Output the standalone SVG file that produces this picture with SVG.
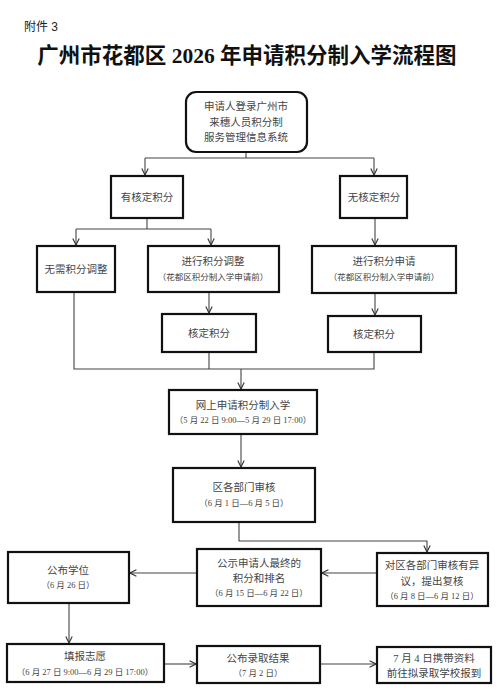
<svg xmlns="http://www.w3.org/2000/svg" width="500" height="695" viewBox="0 0 500 695">
<defs>
<marker id="arr" viewBox="0 0 10 10" refX="9" refY="5" markerWidth="8" markerHeight="8" orient="auto" markerUnits="userSpaceOnUse">
<path d="M1,1 L9,5 L1,9" fill="none" stroke="#333" stroke-width="1.4"/>
</marker>
<style>
.box{fill:#fff;stroke:#111;stroke-width:2.2}
.t{font-family:"Liberation Serif","Noto Sans CJK SC",serif;font-size:10.5px;fill:#444;text-anchor:middle;dominant-baseline:central}
.s{font-family:"Liberation Serif","Noto Sans CJK SC",serif;font-size:8.5px;fill:#444;text-anchor:middle;dominant-baseline:central}
.c{fill:none;stroke:#444;stroke-width:1.1}
</style>
</defs>
<rect width="500" height="695" fill="#fff"/>
<text x="24" y="31" font-family="'Liberation Sans','Noto Sans CJK SC',sans-serif" font-size="12" fill="#222">附件 3</text>
<text x="247" y="63" text-anchor="middle" font-family="'Liberation Serif','Noto Sans CJK SC',serif" font-size="21.5" font-weight="bold" fill="#111">广州市花都区 2026 年申请积分制入学流程图</text>

<g id="connectors">
<path class="c" d="M246,152 V158 M145,158 H374"/>
<path class="c" d="M145,158 V175" marker-end="url(#arr)"/>
<path class="c" d="M374,158 V175" marker-end="url(#arr)"/>
<path class="c" d="M147,218 V229 M76,229 H211"/>
<path class="c" d="M76,229 V245" marker-end="url(#arr)"/>
<path class="c" d="M211,229 V245" marker-end="url(#arr)"/>
<path class="c" d="M375,218 V245" marker-end="url(#arr)"/>
<path class="c" d="M209,292 V313" marker-end="url(#arr)"/>
<path class="c" d="M375,293 V315" marker-end="url(#arr)"/>
<path class="c" d="M74,292 V369 H374 V352 M209,352 V369"/>
<path class="c" d="M241,369 V389" marker-end="url(#arr)"/>
<path class="c" d="M241,434 V467" marker-end="url(#arr)"/>
<path class="c" d="M239,522 V541 H427 V552" marker-end="url(#arr)"/>
<path class="c" d="M377,573 H322" marker-end="url(#arr)"/>
<path class="c" d="M197,573 H130" marker-end="url(#arr)"/>
<path class="c" d="M69,603 V643" marker-end="url(#arr)"/>
<path class="c" d="M164,664 H196" marker-end="url(#arr)"/>
<path class="c" d="M320,664 H376" marker-end="url(#arr)"/>
</g>

<g id="n-login">
<rect class="box" x="186" y="92" width="121" height="60" rx="10"/>
<text class="t" x="246" y="106">申请人登录广州市</text>
<text class="t" x="246" y="122">来穗人员积分制</text>
<text class="t" x="246" y="137">服务管理信息系统</text>
</g>
<g id="n-has">
<rect class="box" x="111" y="176" width="72" height="42"/>
<text class="t" x="147" y="197">有核定积分</text>
</g>
<g id="n-none">
<rect class="box" x="340" y="176" width="67" height="42"/>
<text class="t" x="374" y="197">无核定积分</text>
</g>
<g id="n-noadj">
<rect class="box" x="37" y="246" width="78" height="46"/>
<text class="t" x="76" y="269">无需积分调整</text>
</g>
<g id="n-adj">
<rect class="box" x="148" y="246" width="131" height="46"/>
<text class="t" x="213" y="261">进行积分调整</text>
<text class="s" x="213" y="277">（花都区积分制入学申请前）</text>
</g>
<g id="n-apply">
<rect class="box" x="312" y="246" width="144" height="47"/>
<text class="t" x="384" y="261">进行积分申请</text>
<text class="s" x="384" y="277">（花都区积分制入学申请前）</text>
</g>
<g id="n-verify1">
<rect class="box" x="162" y="314" width="94" height="38"/>
<text class="t" x="209" y="333">核定积分</text>
</g>
<g id="n-verify2">
<rect class="box" x="328" y="316" width="93" height="36"/>
<text class="t" x="374" y="334">核定积分</text>
</g>
<g id="n-online">
<rect class="box" x="169" y="390" width="148" height="44"/>
<text class="t" x="243" y="405">网上申请积分制入学</text>
<text class="s" x="243" y="420">（5 月 22 日 9:00—5 月 29 日 17:00）</text>
</g>
<g id="n-review">
<rect class="box" x="173" y="468" width="142" height="54"/>
<text class="t" x="244" y="487">区各部门审核</text>
<text class="s" x="244" y="503">（6 月 1 日—6 月 5 日）</text>
</g>
<g id="n-seats">
<rect class="box" x="8" y="552" width="121" height="51"/>
<text class="t" x="68" y="570">公布学位</text>
<text class="s" x="68" y="585">（6 月 26 日）</text>
</g>
<g id="n-publicity">
<rect class="box" x="197" y="549" width="124" height="57"/>
<text class="t" x="259" y="563">公示申请人最终的</text>
<text class="t" x="259" y="578">积分和排名</text>
<text class="s" x="259" y="593">（6 月 15 日—6 月 22 日）</text>
</g>
<g id="n-objection">
<rect class="box" x="377" y="553" width="111" height="53"/>
<text class="t" x="432" y="565">对区各部门审核有异</text>
<text class="t" x="432" y="581">议，提出复核</text>
<text class="s" x="432" y="596">（6 月 8 日—6 月 12 日）</text>
</g>
<g id="n-fill">
<rect class="box" x="7" y="644" width="157" height="38"/>
<text class="t" x="85" y="656">填报志愿</text>
<text class="s" x="85" y="672">（6 月 27 日 9:00—6 月 29 日 17:00）</text>
</g>
<g id="n-result">
<rect class="box" x="197" y="646" width="123" height="37"/>
<text class="t" x="258" y="658">公布录取结果</text>
<text class="s" x="258" y="673">（7 月 2 日）</text>
</g>
<g id="n-report">
<rect class="box" x="377" y="647" width="114" height="36"/>
<text class="t" x="434" y="658">7 月 4 日携带资料</text>
<text class="t" x="434" y="673">前往拟录取学校报到</text>
</g>
</svg>
